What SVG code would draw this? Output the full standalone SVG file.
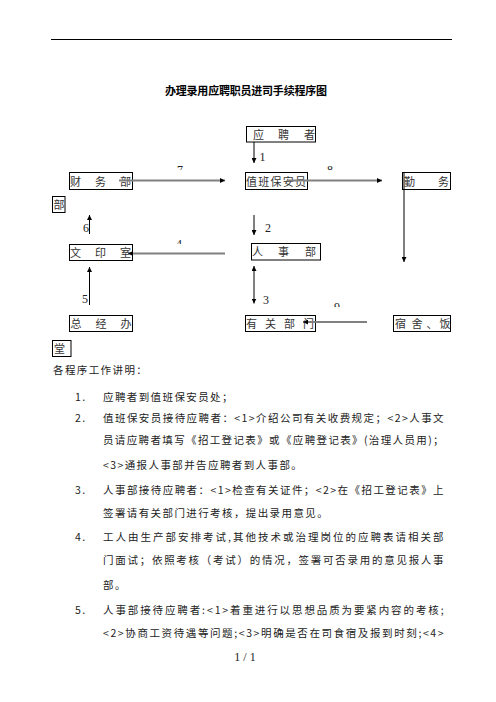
<svg xmlns="http://www.w3.org/2000/svg" width="496" height="702" viewBox="0 0 496 702">
<style>
.cjk{font-family:"Noto Sans CJK SC","Noto Sans",sans-serif;font-size:11px;fill:#333}
.title{font-family:"Noto Sans CJK SC","Noto Sans",sans-serif;font-size:11px;font-weight:bold;fill:#000}
.body{font-family:"Noto Sans CJK SC","Noto Sans",sans-serif;font-size:10.5px;fill:#222;letter-spacing:1.4px}
.num{font-family:"Liberation Serif",serif;font-size:12px;fill:#222}
.box{fill:none;stroke:#000;stroke-width:1}
.vl{stroke:#000;stroke-width:1;fill:none}
.hl{stroke:#808080;stroke-width:2;fill:none}
</style>
<defs>
<marker id="ah" viewBox="0 0 6 6" refX="6" refY="3" markerWidth="5" markerHeight="5" markerUnits="userSpaceOnUse" orient="auto-start-reverse">
<path d="M0,0 L6,3 L0,6 z" fill="#000"/>
</marker>
<clipPath id="c7"><rect x="170" y="165" width="20" height="5"/></clipPath>
<clipPath id="c8"><rect x="322" y="165" width="20" height="5"/></clipPath>
<clipPath id="c4"><rect x="170" y="239" width="20" height="5"/></clipPath>
<clipPath id="c9"><rect x="330" y="302" width="20" height="5"/></clipPath>
</defs>
<rect width="496" height="702" fill="#fff"/>
<line x1="51" y1="39.5" x2="452" y2="39.5" stroke="#000" stroke-width="1"/>
<text class="title" x="165" y="95" textLength="162" lengthAdjust="spacing">办理录用应聘职员进司手续程序图</text>

<g id="n-yingpinzhe"><rect class="box" x="246.5" y="126.5" width="69" height="15.5"/><text class="cjk" y="138.5"><tspan x="253">应</tspan><tspan x="278">聘</tspan><tspan x="304">者</tspan></text></g>
<g id="n-zhiban"><rect class="box" x="245.5" y="172.5" width="62" height="17"/><text class="cjk" x="246" y="185.5" textLength="60" lengthAdjust="spacing">值班保安员</text></g>
<g id="n-caiwu"><rect class="box" x="69.5" y="172.5" width="63" height="17"/><text class="cjk" y="185.5"><tspan x="70">财</tspan><tspan x="95">务</tspan><tspan x="120">部</tspan></text></g>
<g id="n-caiwu2"><rect class="box" x="52.5" y="196.5" width="12.5" height="16"/><text class="cjk" x="53.5" y="208.5">部</text></g>
<g id="n-qinwu"><rect class="box" x="402.5" y="172.5" width="48" height="17"/><text class="cjk" y="185.5"><tspan x="404">勤</tspan><tspan x="438">务</tspan></text></g>
<g id="n-wenyin"><rect class="box" x="69.5" y="244.5" width="63" height="16"/><text class="cjk" y="256.5"><tspan x="70">文</tspan><tspan x="95">印</tspan><tspan x="120">室</tspan></text></g>
<g id="n-renshi"><rect class="box" x="251.5" y="243.5" width="69" height="16.5"/><text class="cjk" y="256"><tspan x="252">人</tspan><tspan x="278">事</tspan><tspan x="305">部</tspan></text></g>
<g id="n-zongjing"><rect class="box" x="69.5" y="315.5" width="63" height="16"/><text class="cjk" y="327.5"><tspan x="70.5">总</tspan><tspan x="95.5">经</tspan><tspan x="120.5">办</tspan></text></g>
<g id="n-zongjing2"><rect class="box" x="52.5" y="340.5" width="18.5" height="16"/><text class="cjk" x="54" y="352.5">堂</text></g>
<g id="n-youguan"><rect class="box" x="245.5" y="315.5" width="70" height="16"/><text class="cjk" y="327.5"><tspan x="246">有</tspan><tspan x="265">关</tspan><tspan x="284">部</tspan><tspan x="303">门</tspan></text></g>
<g id="n-sushe"><rect class="box" x="393.5" y="315.5" width="57" height="16"/><text class="cjk" y="327.5"><tspan x="395">宿</tspan><tspan x="411.5">舍</tspan><tspan x="426.5">、</tspan><tspan x="439.5">饭</tspan></text></g>

<g id="connectors">
<line class="vl" x1="254" y1="142" x2="254" y2="163" marker-end="url(#ah)"/>
<line class="vl" x1="254" y1="215" x2="254" y2="235" marker-end="url(#ah)"/>
<line class="vl" x1="254" y1="266" x2="254" y2="303.5" marker-start="url(#ah)" marker-end="url(#ah)"/>
<line class="hl" x1="225" y1="253.5" x2="128" y2="253.5" marker-end="url(#ah)"/>
<line class="vl" x1="89.5" y1="305" x2="89.5" y2="267" marker-end="url(#ah)"/>
<line class="vl" x1="89.5" y1="234" x2="89.5" y2="215" marker-end="url(#ah)"/>
<line class="hl" x1="119" y1="180.5" x2="225" y2="180.5" marker-end="url(#ah)"/>
<line class="hl" x1="287" y1="180.5" x2="382" y2="180.5" marker-end="url(#ah)"/>
<line class="vl" x1="404" y1="173" x2="404" y2="262" marker-end="url(#ah)"/>
<line class="hl" x1="367" y1="322" x2="303" y2="322" marker-end="url(#ah)"/>
<text class="num" x="259.5" y="161">1</text>
<text class="num" x="265" y="232">2</text>
<text class="num" x="263" y="303.5">3</text>
<text class="num" x="82" y="303">5</text>
<text class="num" x="83" y="232">6</text>
<text class="num" x="177" y="174" clip-path="url(#c7)">7</text>
<text class="num" x="327" y="174" clip-path="url(#c8)">8</text>
<text class="num" x="176" y="248" clip-path="url(#c4)">4</text>
<text class="num" x="334" y="311" clip-path="url(#c9)">9</text>
</g>

<g id="notes">
<text class="body" x="53" y="374">各程序工作讲明：</text>
<text class="body" x="75" y="401">1.</text>
<text class="body" x="103" y="401">应聘者到值班保安员处；</text>
<text class="body" x="75" y="422">2.</text>
<text class="body" x="103" y="422" textLength="342" lengthAdjust="spacing">值班保安员接待应聘者：&lt;1&gt;介绍公司有关收费规定；&lt;2&gt;人事文</text>
<text class="body" x="103" y="444" textLength="342" lengthAdjust="spacing">员请应聘者填写《招工登记表》或《应聘登记表》(治理人员用)；</text>
<text class="body" x="103" y="469">&lt;3&gt;通报人事部并告应聘者到人事部。</text>
<text class="body" x="75" y="494">3.</text>
<text class="body" x="103" y="494" textLength="342" lengthAdjust="spacing">人事部接待应聘者：&lt;1&gt;检查有关证件；&lt;2&gt;在《招工登记表》上</text>
<text class="body" x="103" y="517">签署请有关部门进行考核，提出录用意见。</text>
<text class="body" x="75" y="541">4.</text>
<text class="body" x="103" y="541" textLength="342" lengthAdjust="spacing">工人由生产部安排考试,其他技术或治理岗位的应聘表请相关部</text>
<text class="body" x="103" y="564" textLength="342" lengthAdjust="spacing">门面试；依照考核（考试）的情况，签署可否录用的意见报人事</text>
<text class="body" x="103" y="589">部。</text>
<text class="body" x="75" y="614">5.</text>
<text class="body" x="103" y="614" textLength="342" lengthAdjust="spacing">人事部接待应聘者:&lt;1&gt;着重进行以思想品质为要紧内容的考核;</text>
<text class="body" x="103" y="637" textLength="342" lengthAdjust="spacing">&lt;2&gt;协商工资待遇等问题;&lt;3&gt;明确是否在司食宿及报到时刻;&lt;4&gt;</text>
<text class="num" x="245" y="661" text-anchor="middle">1 / 1</text>
</g>
</svg>
